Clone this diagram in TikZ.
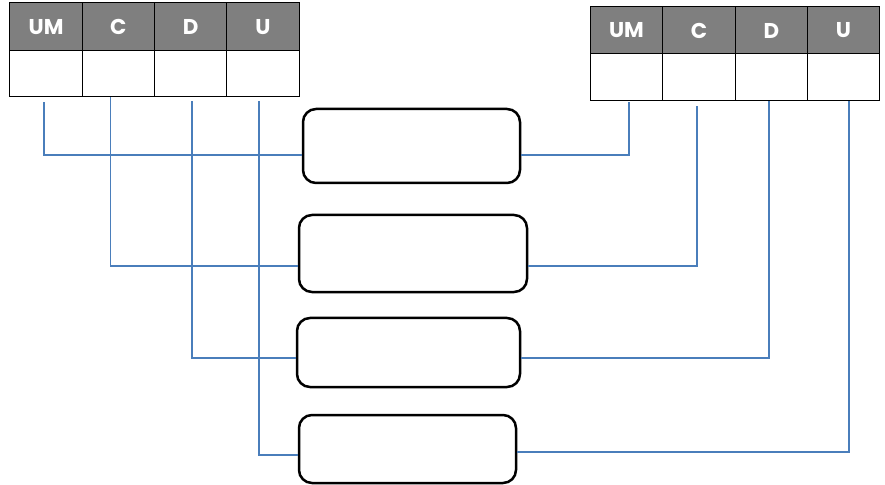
\documentclass[tikz,border=0pt]{standalone}
\usepackage{fontspec}
\newfontfamily\hdrfont{Poppins}
\definecolor{hdrgray}{HTML}{7F7F7F}
\definecolor{wireblue}{HTML}{4A7EBB}
\tikzset{
	hdr/.style={draw, fill=hdrgray, line width=1bp, minimum width=72.25bp, minimum height=48bp, inner sep=0pt, text=white, font=\hdrfont\bfseries\fontsize{21.5}{24}\selectfont},
	cell/.style={draw, fill=white, line width=1bp, minimum width=72.25bp, minimum height=46bp, inner sep=0pt},
	unit/.style={draw, line width=2.5bp, rounded corners=13bp, inner sep=0pt},
	wire/.style={draw=wireblue, line width=1.5bp}
}
\begin{document}
\begin{tikzpicture}[x=1bp, y=-1bp]
				\useasboundingbox (0,0) rectangle (885,485);

				% left table
				\node[hdr] (lh1) at (46.1, 27) {UM};
				\node[hdr] (lh2) at (118.4, 27) {C};
				\node[hdr] (lh3) at (190.6, 27) {D};
				\node[hdr] (lh4) at (262.9, 27) {U};
				\node[cell] (lb1) at (46.1, 74) {};
				\node[cell] (lb2) at (118.4, 74) {};
				\node[cell] (lb3) at (190.6, 74) {};
				\node[cell] (lb4) at (262.9, 74) {};

				% right table
				\node[hdr, minimum height=47bp] (rh1) at (626.5, 30.5) {UM};
				\node[hdr, minimum height=47bp] (rh2) at (699, 30.5) {C};
				\node[hdr, minimum height=47bp] (rh3) at (771.5, 30.5) {D};
				\node[hdr, minimum height=47bp] (rh4) at (843.5, 30.5) {U};
				\node[cell, minimum height=47bp] (rb1) at (626.5, 77.5) {};
				\node[cell, minimum height=47bp] (rb2) at (699, 77.5) {};
				\node[cell, minimum height=47bp] (rb3) at (771.5, 77.5) {};
				\node[cell, minimum height=47bp] (rb4) at (843.5, 77.5) {};

				% boxes in the middle
				\node[unit, minimum width=217bp, minimum height=74bp] (u1) at (411.5, 146) {};
				\node[unit, minimum width=228bp, minimum height=77bp] (u2) at (413, 253.5) {};
				\node[unit, minimum width=223bp, minimum height=69bp] (u3) at (408.5, 352.5) {};
				\node[unit, minimum width=217bp, minimum height=68bp] (u4) at (407.5, 449) {};

				% wires from the left table
				\draw[wire] ([xshift=-2bp, yshift=-5bp]lb1.south) |- ([yshift=-9bp]u1.west);
				\draw[wire] ([xshift=-8bp]lb2.south) |- ([yshift=-12.5bp]u2.west);
				\draw[wire] ([xshift=1.5bp, yshift=-4bp]lb3.south) |- ([yshift=-5.5bp]u3.west);
				\draw[wire] ([xshift=-4bp, yshift=-4bp]lb4.south) |- ([yshift=-6bp]u4.west);

				% wires to the right table
				\draw[wire] ([yshift=-9bp]u1.east) -| ([xshift=2.5bp, yshift=-1bp]rb1.south);
				\draw[wire] ([yshift=-12.5bp]u2.east) -| ([xshift=-2bp, yshift=-5bp]rb2.south);
				\draw[wire] ([yshift=-5.5bp]u3.east) -| ([xshift=-2.5bp]rb3.south);
				\draw[wire] ([yshift=-3bp]u4.east) -| ([xshift=5.5bp]rb4.south);

			\end{tikzpicture}
\end{document}
